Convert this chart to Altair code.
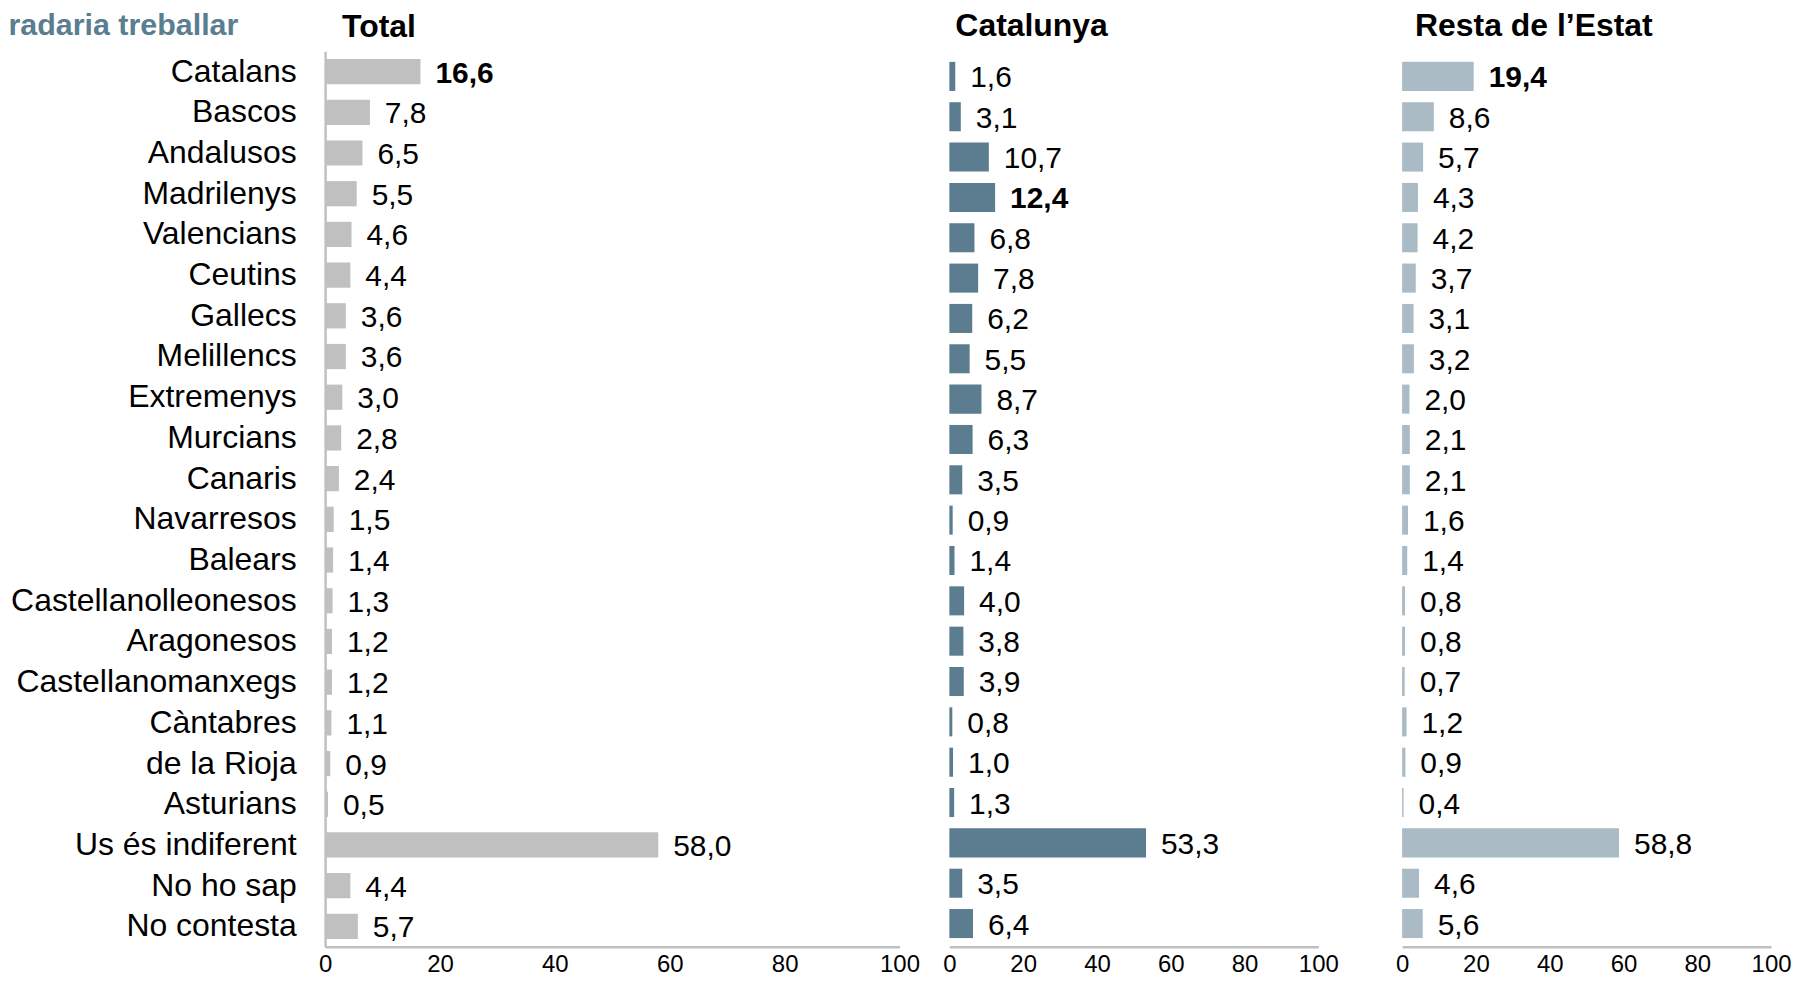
import altair as alt
import pandas as pd

FONT = "Liberation Sans"

categories = ["Catalans", "Bascos", "Andalusos", "Madrilenys", "Valencians", "Ceutins",
              "Gallecs", "Melillencs", "Extremenys", "Murcians", "Canaris", "Navarresos",
              "Balears", "Castellanolleonesos", "Aragonesos", "Castellanomanxegs",
              "Càntabres", "de la Rioja", "Asturians", "Us és indiferent", "No ho sap",
              "No contesta"]
total = [16.6, 7.8, 6.5, 5.5, 4.6, 4.4, 3.6, 3.6, 3.0, 2.8, 2.4, 1.5, 1.4, 1.3, 1.2, 1.2,
         1.1, 0.9, 0.5, 58.0, 4.4, 5.7]
catalunya = [1.6, 3.1, 10.7, 12.4, 6.8, 7.8, 6.2, 5.5, 8.7, 6.3, 3.5, 0.9, 1.4, 4.0, 3.8,
             3.9, 0.8, 1.0, 1.3, 53.3, 3.5, 6.4]
resta = [19.4, 8.6, 5.7, 4.3, 4.2, 3.7, 3.1, 3.2, 2.0, 2.1, 2.1, 1.6, 1.4, 0.8, 0.8, 0.7,
         1.2, 0.9, 0.4, 58.8, 4.6, 5.6]
x_ticks = [0, 20, 40, 60, 80, 100]
heading = "Amb qui li agradaria treballar"
titles = ["Total", "Catalunya", "Resta de l\u2019Estat"]
colors = ["#c0c0c0", "#5b7d8f", "#aabbc6"]
N_REGIONS = 19
HEIGHT = 898


def make_df(vals):
    top = max(vals[:N_REGIONS])
    return pd.DataFrame({
        "cat": categories,
        "val": vals,
        "label": [f"{v:.1f}".replace(".", ",") for v in vals],
        "bold": [(i < N_REGIONS and v == top) for i, v in enumerate(vals)],
    })


def panel(vals, color, width, x_len, title, title_dx, title_off, y_range, pad, first):
    df = make_df(vals)
    if first:
        yaxis = alt.Axis(title=None, ticks=False, labelFontSize=32, labelFont=FONT,
                         labelColor="black", labelPadding=29, domainColor="#c0c0c0",
                         domainWidth=2.5, labelLimit=400)
    else:
        yaxis = None
    y = alt.Y("cat:N", sort=categories,
              scale=alt.Scale(range=y_range, paddingInner=pad, paddingOuter=pad / 2),
              axis=yaxis)
    x = alt.X("val:Q", scale=alt.Scale(domain=[0, 100], range=[0, x_len]),
              axis=alt.Axis(values=x_ticks, title=None, grid=False, ticks=False, tickSize=0,
                            labelFlush=False, labelFontSize=24, labelFont=FONT,
                            labelColor="black", labelPadding=6, domainColor="#c0c0c0",
                            domainWidth=2.5))
    base = alt.Chart(df)
    bars = base.mark_bar(color=color).encode(x=x, y=y)
    txt_n = base.mark_text(align="left", baseline="middle", dx=15, dy=2, fontSize=30,
                           font=FONT, color="black").encode(
        x=x, y=y, text="label:N").transform_filter("!datum.bold")
    txt_b = base.mark_text(align="left", baseline="middle", dx=15, dy=2, fontSize=30,
                           font=FONT, color="black", fontWeight="bold").encode(
        x=x, y=y, text="label:N").transform_filter("datum.bold")
    layers = [bars, txt_n, txt_b]
    if first:
        head = alt.Chart(alt.Data(values=[{"h": heading}])).mark_text(
            align="right", baseline="alphabetic", fontSize=30.5, font=FONT,
            fontWeight="bold", color="#5b7d90", dir="rtl", limit=240,
            ellipsis="\u200b").encode(
            x=alt.value(-87), y=alt.value(-16), text="h:N")
        layers.append(head)
    return alt.layer(*layers).properties(
        width=width, height=HEIGHT,
        title=alt.TitleParams(title, anchor="start", dx=title_dx, fontSize=32,
                              fontWeight="bold", font=FONT, color="black",
                              frame="group", baseline="alphabetic", offset=title_off),
    )


p1 = panel(total, colors[0], 576, 576, titles[0], 17, -58, [0, HEIGHT], 0.38, True)
p2 = panel(catalunya, colors[1], 404, 370, titles[1], 6, -16.5, [5, HEIGHT - 3], 0.28, False)
p3 = panel(resta, colors[2], 370, 370, titles[2], 13, -16.5, [5, HEIGHT - 3], 0.28, False)

chart = alt.hconcat(p1, p2, p3, spacing=50, bounds="flush").configure_view(
    stroke=None
).properties(
    padding={"left": 0, "top": 0, "right": 0, "bottom": 0},
    background="white",
)

chart.save("out.html", embed_options={"renderer": "svg", "actions": False})
